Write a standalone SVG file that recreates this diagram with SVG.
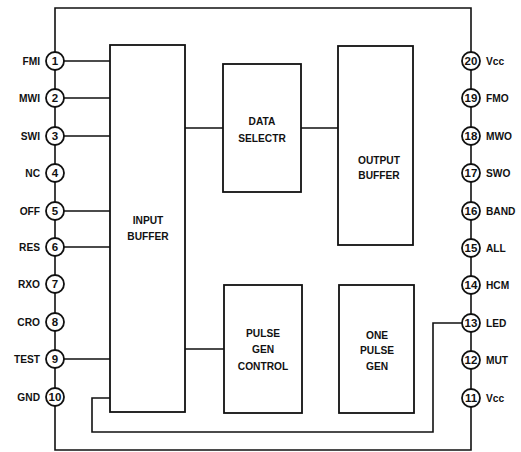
<svg xmlns="http://www.w3.org/2000/svg" width="521" height="452" viewBox="0 0 521 452">
<style>
.w{fill:none;stroke:#111;stroke-width:1.6}
.b{fill:#fff;stroke:#111;stroke-width:1.8}
.p{fill:#fff;stroke:#111;stroke-width:1.8}
text{font-family:"Liberation Sans",Arial,sans-serif;font-weight:bold;font-size:10.2px;fill:#111}
.c{text-anchor:middle}
.l{text-anchor:end}
.n{text-anchor:middle;font-size:11.5px}
</style>
<rect width="521" height="452" fill="#fff"/>
<g id="connectors">
<path class="w" d="M55,61 V8 H471 V450 H55 V61"/>
<path class="w" d="M55,61 H110 M55,98 H110 M55,136 H110 M55,211 H110 M55,247 H110 M55,359 H110"/>
<path class="w" d="M185,128 H223 M301,128 H338 M185,349 H224"/>
<path class="w" d="M471,323 H433 V432 H92 V398 H110"/>
</g>
<g id="input-buffer"><rect class="b" x="110" y="45" width="75" height="367"/><text class="c" x="148" y="224">INPUT</text><text class="c" x="148" y="240">BUFFER</text></g>
<g id="data-selectr"><rect class="b" x="223" y="64" width="78" height="128"/><text class="c" x="262" y="125">DATA</text><text class="c" x="262" y="142">SELECTR</text></g>
<g id="output-buffer"><rect class="b" x="338" y="46" width="75" height="199"/><text class="c" x="379" y="164">OUTPUT</text><text class="c" x="379" y="179">BUFFER</text></g>
<g id="pulse-gen-control"><rect class="b" x="224" y="285" width="78" height="128"/><text class="c" x="263" y="337">PULSE</text><text class="c" x="263" y="353">GEN</text><text class="c" x="263" y="370">CONTROL</text></g>
<g id="one-pulse-gen"><rect class="b" x="339" y="285" width="75" height="128"/><text class="c" x="377" y="339">ONE</text><text class="c" x="377" y="354">PULSE</text><text class="c" x="377" y="370">GEN</text></g>
<g id="pin1"><circle class="p" cx="55" cy="61" r="9"/><text class="n" x="55" y="65">1</text><text class="l" x="40" y="65">FMI</text></g>
<g id="pin2"><circle class="p" cx="55" cy="98" r="9"/><text class="n" x="55" y="102">2</text><text class="l" x="40" y="102">MWI</text></g>
<g id="pin3"><circle class="p" cx="55" cy="136" r="9"/><text class="n" x="55" y="140">3</text><text class="l" x="40" y="140">SWI</text></g>
<g id="pin4"><circle class="p" cx="55" cy="173" r="9"/><text class="n" x="55" y="177">4</text><text class="l" x="40" y="177">NC</text></g>
<g id="pin5"><circle class="p" cx="55" cy="211" r="9"/><text class="n" x="55" y="215">5</text><text class="l" x="40" y="215">OFF</text></g>
<g id="pin6"><circle class="p" cx="55" cy="247" r="9"/><text class="n" x="55" y="251">6</text><text class="l" x="40" y="251">RES</text></g>
<g id="pin7"><circle class="p" cx="55" cy="284" r="9"/><text class="n" x="55" y="288">7</text><text class="l" x="40" y="288">RXO</text></g>
<g id="pin8"><circle class="p" cx="55" cy="322" r="9"/><text class="n" x="55" y="326">8</text><text class="l" x="40" y="326">CRO</text></g>
<g id="pin9"><circle class="p" cx="55" cy="359" r="9"/><text class="n" x="55" y="363">9</text><text class="l" x="40" y="363">TEST</text></g>
<g id="pin10"><circle class="p" cx="55" cy="397" r="9"/><text class="n" x="55" y="401">10</text><text class="l" x="40" y="401">GND</text></g>
<g id="pin20"><circle class="p" cx="471" cy="61" r="9"/><text class="n" x="471" y="65">20</text><text x="486" y="65">Vcc</text></g>
<g id="pin19"><circle class="p" cx="471" cy="98" r="9"/><text class="n" x="471" y="102">19</text><text x="486" y="102">FMO</text></g>
<g id="pin18"><circle class="p" cx="471" cy="136" r="9"/><text class="n" x="471" y="140">18</text><text x="486" y="140">MWO</text></g>
<g id="pin17"><circle class="p" cx="471" cy="173" r="9"/><text class="n" x="471" y="177">17</text><text x="486" y="177">SWO</text></g>
<g id="pin16"><circle class="p" cx="471" cy="211" r="9"/><text class="n" x="471" y="215">16</text><text x="486" y="215">BAND</text></g>
<g id="pin15"><circle class="p" cx="471" cy="248" r="9"/><text class="n" x="471" y="252">15</text><text x="486" y="252">ALL</text></g>
<g id="pin14"><circle class="p" cx="471" cy="285" r="9"/><text class="n" x="471" y="289">14</text><text x="486" y="289">HCM</text></g>
<g id="pin13"><circle class="p" cx="471" cy="323" r="9"/><text class="n" x="471" y="327">13</text><text x="486" y="327">LED</text></g>
<g id="pin12"><circle class="p" cx="471" cy="360" r="9"/><text class="n" x="471" y="364">12</text><text x="486" y="364">MUT</text></g>
<g id="pin11"><circle class="p" cx="471" cy="398" r="9"/><text class="n" x="471" y="402">11</text><text x="486" y="402">Vcc</text></g>
</svg>
